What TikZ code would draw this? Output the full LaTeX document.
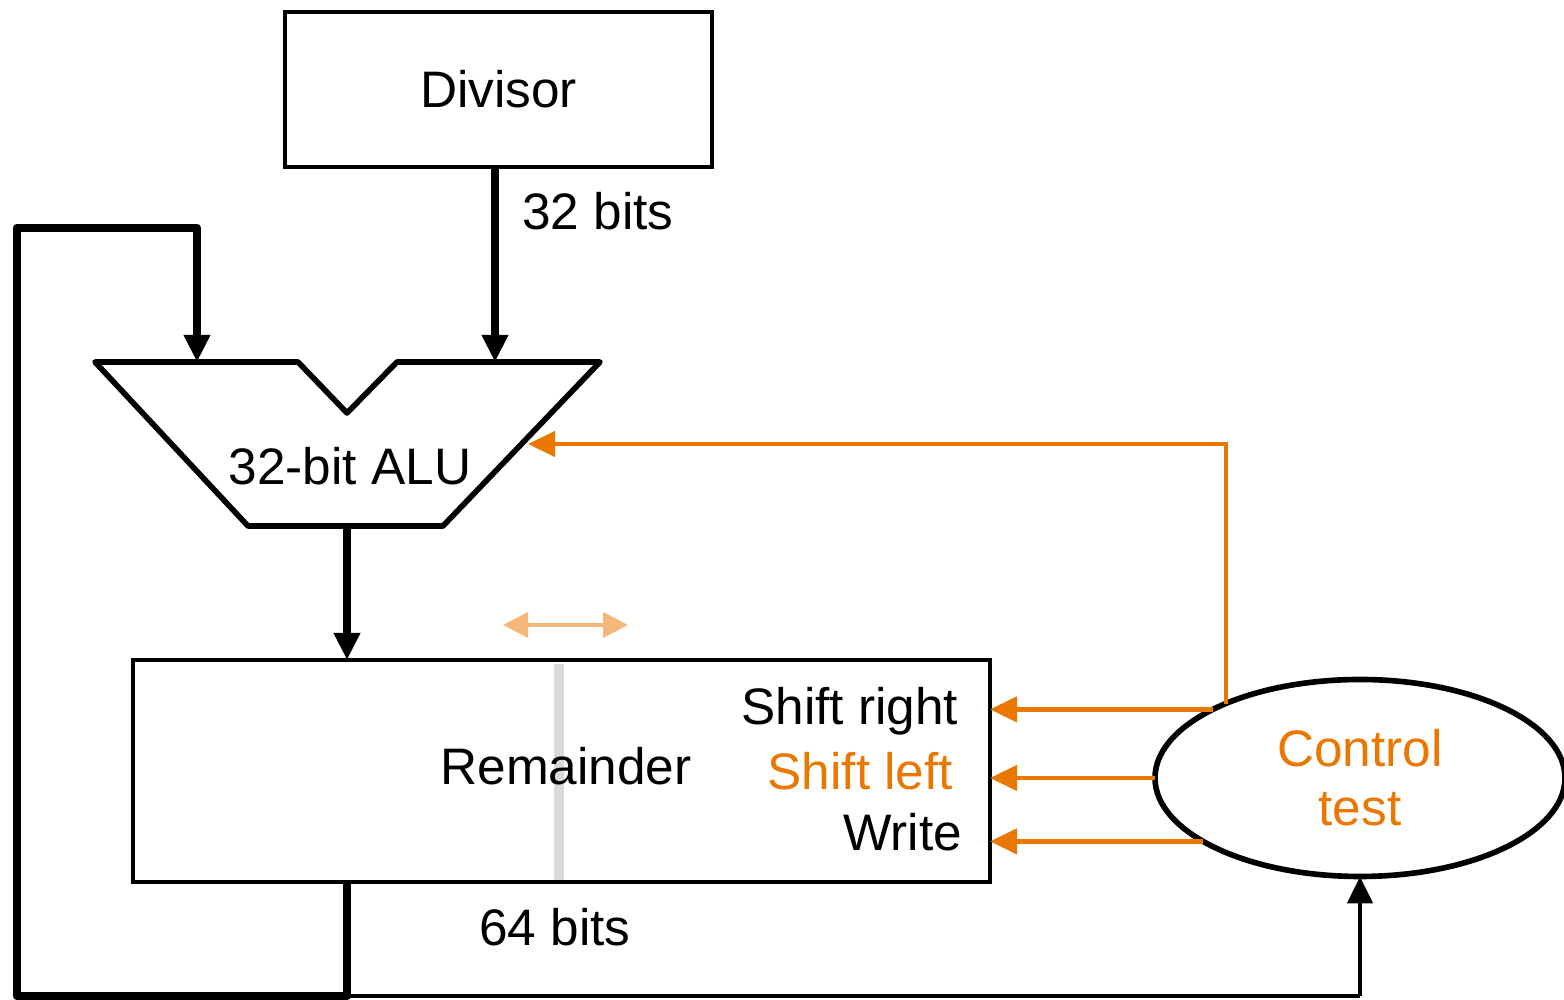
\documentclass[tikz,border=0pt]{standalone}
\usepackage{fontspec}
\setmainfont{Liberation Sans}
\usepackage{xcolor}
\usepackage{tikz}
\usetikzlibrary{arrows.meta,shapes.geometric}
\definecolor{ctrlorange}{RGB}{233,119,0}
\definecolor{paleorange}{RGB}{245,184,122}
\definecolor{splitgray}{RGB}{217,217,217}

\begin{document}
\begin{tikzpicture}[every node/.style={font=\fontsize{14.6}{16.8}\selectfont, inner sep=0pt, outer sep=0pt},
  box/.style={draw, line width=1.3pt, fill=white},
  bus/.style={line width=2.5pt, line join=round},
  wire/.style={line width=1.4pt},
  sig/.style={ctrlorange, line width=1.25pt},
  tip/.style={-{Triangle[length=2.7mm,width=2.5mm]}}]
\useasboundingbox (0,0) rectangle (15.64,-10);
% Blocks
\node[box, minimum width=4.27cm, minimum height=1.55cm] (div) at (4.985,-0.895) {Divisor};
\node[box, minimum width=8.57cm, minimum height=2.22cm] (rem) at (5.615,-7.71) {};
\draw[splitgray, line width=2.8pt] (5.59,-6.64) -- (5.59,-8.80);
\node[ellipse, draw, line width=1.6pt, fill=white, minimum width=4.1cm, minimum height=1.97cm,
  text=ctrlorange, align=center] (ctrl) at (13.60,-7.78) {Control\\test};
% ALU outline
\draw[line width=1.6pt, line join=round] (0.95,-3.62) -- (2.98,-3.62) -- (3.47,-4.13) -- (3.97,-3.62)
  -- (6.00,-3.62) -- (4.43,-5.26) -- (2.48,-5.26) -- cycle;
\coordinate (alua) at (1.97,-3.62);
\coordinate (alub) at (4.95,-3.62);
\coordinate (aluo) at (3.47,-5.26);
\coordinate (aluin) at (5.28,-4.44);
% Labels
\node[anchor=base] (alulbl) at (3.50,-4.85) {32-bit ALU};
\node[anchor=base] (remlbl) at (5.66,-7.85) {Remainder};
\node[anchor=base east] (shr) at (9.58,-7.25) {Shift right};
\node[anchor=base east, text=ctrlorange] (shl) at (9.53,-7.90) {Shift left};
\node[anchor=base east] (wr) at (9.62,-8.51) {Write};
\node[anchor=base] (divbits) at (5.98,-2.30) {32 bits};
\node[anchor=base] (rembits) at (5.55,-9.46) {64 bits};
% Data paths
\coordinate (lp) at (3.47,-9.96);
\coordinate (lbl) at (0.17,-9.96);
\coordinate (ltl) at (0.17,-2.28);
\coordinate (ltr) at (1.97,-2.28);
\draw[bus, tip] (div.south -| alub) -- (alub);
\draw[bus, tip] (aluo) -- (aluo |- rem.north);
\draw[bus, tip] (aluo |- rem.south) -- (lp) -- (lbl) -- (ltl) -- (ltr) -- (alua);
\draw[line width=0.9pt] (lp) -- (ctrl.south |- lp);
\draw[wire, tip] (ctrl.south |- lp) -- (ctrl.south);
% Control signals
\draw[sig, tip] (ctrl.151) |- (aluin);
\draw[sig, tip] (ctrl.155) -- (rem.east |- ctrl.155);
\draw[sig, tip] (ctrl.west) -- (rem.east |- ctrl.west);
\draw[sig, tip] (ctrl.202) -- (rem.east |- ctrl.202);
% Shift direction
\coordinate (sl) at (5.03,-6.25);
\coordinate (sr) at (6.28,-6.25);
\draw[paleorange, line width=1.2pt, {Triangle[length=2.5mm,width=2.5mm]}-{Triangle[length=2.5mm,width=2.5mm]}] (sl) -- (sr);
\end{tikzpicture}
\end{document}
